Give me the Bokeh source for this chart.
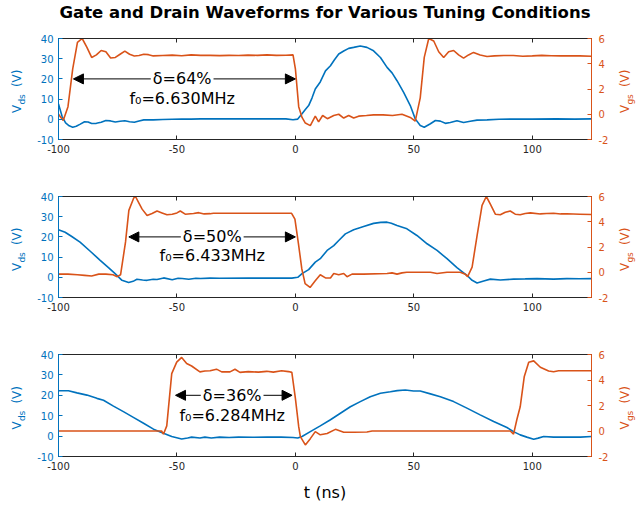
from math import pi
from bokeh.plotting import figure
from bokeh.models import (Range1d, LinearAxis, Label, Arrow, NormalHead, FixedTicker)
from bokeh.layouts import column, row
from bokeh.embed import file_html
from bokeh.resources import INLINE

BLUE = "#0072BD"
ORANGE = "#D95319"
DARK = "#262626"
FONT = "DejaVu Sans"

# ---------------- data ----------------
title_text = "Gate and Drain Waveforms for Various Tuning Conditions"
x_ticks = [-100, -50, 0, 50, 100]
vds_ticks = [-10, 0, 10, 20, 30, 40]
vgs_ticks = [-2, 0, 2, 4, 6]

# Panel 1 (delta = 64 %)
t1_gs = [-100, -98, -96, -94, -92, -90, -88, -86, -84, -82, -80, -78, -76, -74, -72, -70, -68, -66, -64, -62,
         -60, -56, -52, -48, -44, -40, -36, -32, -28, -24, -20, -16, -12, -8, -4, -1, 0, 1.4, 2.8, 4.2, 6.3,
         8.4, 9.8, 11.5, 13.5, 16.2, 18.3, 20.4, 22.5, 24.6, 26.7, 30, 33, 37, 41, 45, 48.5, 50.6, 52.7, 54.4,
         56.3, 58.4, 60.5, 62.6, 64.7, 66.8, 68.9, 71, 73.1, 75.2, 78, 80.9, 84, 88, 92, 96, 100, 104, 108,
         112, 116, 120, 125]
v1_gs = [0.0, -0.5, 0.6, 3.6, 5.7, 6.0, 5.3, 4.5, 4.7, 5.05, 4.95, 4.45, 4.5, 4.75, 5.0, 4.75, 4.62, 4.65, 4.75,
         4.72, 4.62, 4.65, 4.68, 4.63, 4.7, 4.66, 4.66, 4.64, 4.66, 4.65, 4.68, 4.66, 4.7, 4.66, 4.67, 4.7, 3.6,
         0.6, -0.25, -0.7, -0.9, -0.15, -0.6, -0.1, -0.35, -0.1, 0.0, -0.3, -0.1, -0.3, -0.15, -0.1, -0.05, -0.05,
         -0.1, 0.0, -0.25, -0.55, 1.3, 4.5, 6.0, 5.8, 4.95, 4.5, 4.95, 5.05, 4.7, 4.45, 4.7, 4.9, 4.7, 4.58,
         4.62, 4.65, 4.65, 4.6, 4.62, 4.66, 4.63, 4.62, 4.63, 4.62, 4.6]
t1_ds = [-100, -98.5, -97, -95.5, -94, -92.5, -91, -89, -87.5, -86, -84, -82, -80, -78, -76, -74, -72, -70, -68,
         -66, -64, -60, -56, -52, -48, -44, -40, -30, -20, -10, -4, -1, 1, 2.8, 4.2, 5.6, 7, 8.4, 10.5, 12.7,
         14.8, 16.5, 18.3, 20.4, 22.5, 24.6, 27.4, 30.2, 33, 35.9, 38.7, 40.8, 42.9, 45.7, 48.5, 50.6, 52.7,
         54.4, 57, 59.1, 61.2, 63.3, 65.4, 68.2, 71, 73.8, 76.7, 80.9, 86, 92, 100, 110, 118, 125]
v1_ds = [7.6, 1.5, -1.8, -3.2, -3.9, -3.4, -2.5, -1.2, -1.3, -2.1, -2.0, -1.5, -0.6, -0.8, -1.3, -1.0, -0.7, -1.2,
         -1.5, -0.8, -0.3, -0.3, -0.1, 0.0, 0.1, 0.1, 0.2, 0.2, 0.2, 0.2, 0.2, -0.2, 0.1, 2.7, 4.8, 6.8, 10.5,
         15.0, 18.5, 24.0, 26.5, 29.5, 32.3, 33.8, 35.1, 35.6, 36.3, 35.6, 33.9, 30.6, 25.7, 23.0, 19.1, 13.3,
         6.8, 0.2, -3.1, -3.9, -2.2, -0.6, -0.9, -2.0, -1.6, -0.7, -1.6, -1.0, -0.4, -0.3, 0.0, 0.1, 0.1, 0.2,
         0.1, 0.2]

# Panel 2 (delta = 50 %)
t2_gs = [-100, -96, -92, -89, -86, -83, -80, -77, -75.2, -73.8, -71.7, -70.3, -68.2, -67.5, -66.1, -64.7, -62.6,
         -60.5, -58.4, -56.3, -54.2, -52, -50, -48.6, -46.5, -43, -40.8, -38.5, -36, -34.6, -30, -20, -10, -1.6,
         -0.2, 1.3, 2.7, 4.1, 6.2, 8.3, 10.5, 12.7, 14.8, 16.2, 18.3, 20.4, 21.8, 23.9, 28.8, 38.7, 40.8, 42.9,
         45, 47, 52.7, 57, 59.8, 64, 69.6, 71.7, 72.7, 74.6, 76.7, 78.8, 80.6, 82.3, 84.4, 86.5, 88.6, 90.7,
         92.8, 94.9, 97, 99.2, 103.4, 106, 109, 112, 114.6, 120, 125]
v2_gs = [-0.15, -0.15, -0.2, -0.25, -0.3, -0.15, -0.15, -0.2, -0.35, -0.2, 2.4, 4.9, 5.9, 6.0, 5.5, 5.0, 4.5,
         4.65, 4.85, 4.7, 4.55, 4.6, 4.7, 4.85, 4.6, 4.65, 4.72, 4.62, 4.64, 4.67, 4.67, 4.67, 4.67, 4.67, 4.2,
         2.25, 0.28, -0.9, -1.2, -0.7, -0.2, -0.45, -0.45, -0.1, -0.2, -0.1, -0.35, -0.15, -0.15, -0.1, -0.05,
         -0.15, -0.05, 0.0, 0.0, 0.0, -0.1, 0.0, 0.0, -0.15, -0.35, 0.4, 2.9, 5.3, 6.0, 5.4, 4.6, 4.55, 4.75,
         4.85, 4.6, 4.55, 4.65, 4.7, 4.62, 4.65, 4.67, 4.62, 4.63, 4.6, 4.57]
t2_ds = [-100, -97.2, -94.4, -90.9, -86.6, -82.4, -78.9, -76.1, -73.2, -70.4, -68.5, -66.9, -64.5, -62.6, -60,
         -58.4, -55.6, -52, -49.5, -47.8, -45, -42, -40, -36, -32, -20, -10, -1.5, 1, 2.8, 5.6, 8.4, 10.5, 13.4,
         16.2, 18.3, 21.1, 24.6, 28.8, 33, 36, 38.7, 40.5, 42.9, 47.1, 51.3, 55.6, 59.8, 64, 68.2, 72.4, 74.6,
         76.7, 79.5, 82.3, 86.5, 92.1, 97, 102, 109, 114.6, 120, 125]
v2_ds = [23.5, 22.3, 20.2, 17.4, 12.9, 8.4, 4.8, 1.8, -1.5, -2.6, -2.0, -1.0, -1.3, -1.5, -1.0, -1.1, -0.3, -1.2,
         -0.5, -0.6, -1.0, -0.5, -0.6, -0.4, -0.5, -0.4, -0.4, -0.4, 0.0, 1.8, 3.8, 7.5, 9.2, 13.3, 15.7, 18.2,
         21.5, 23.5, 25.1, 26.7, 27.2, 27.3, 26.8, 25.6, 24.0, 20.7, 16.6, 13.3, 9.2, 4.8, 1.0, -1.5, -2.8, -1.8,
         -0.9, -1.3, -0.9, -0.8, -0.65, -0.9, -0.65, -0.7, -0.65]

# Panel 3 (delta = 36 %)
t3_gs = [-100, -90, -80, -70, -60, -56.5, -55.7, -54.3, -52.2, -50.1, -48, -45.9, -43.8, -40.3, -38.2, -36,
         -33.3, -31.1, -27.6, -25.5, -23.4, -19.9, -15.6, -12.1, -9.3, -5.8, -2.9, -1.5, 0, 1.4, 2.1, 4.2, 6.3,
         8.4, 10.5, 13.4, 16.9, 20.4, 24.6, 30.2, 32.4, 40, 50, 60, 70, 80, 90.7, 92.1, 93.5, 94.9, 96.6, 98.5,
         100.6, 103.4, 106.9, 109, 111.1, 115, 120, 125]
v3_gs = [0.0, 0.0, 0.0, 0.0, 0.0, 0.0, -0.25, 0.4, 4.5, 5.4, 5.77, 5.3, 5.1, 4.64, 4.7, 4.72, 4.85, 4.64, 4.64,
         4.84, 4.6, 4.66, 4.62, 4.68, 4.62, 4.72, 4.66, 4.6, 2.56, 0.34, -0.44, -1.09, -0.6, -0.05, -0.3, -0.2,
         0.13, -0.1, -0.1, -0.08, 0.0, 0.0, 0.0, 0.0, 0.0, 0.0, 0.0, -0.25, 0.9, 1.9, 4.25, 5.4, 5.5, 5.0, 4.7,
         4.65, 4.72, 4.72, 4.72, 4.72]
t3_ds = [-100, -95.8, -92.2, -88, -83.8, -81, -76.8, -72.6, -68.4, -64.1, -59.9, -55.7, -52.2, -48, -45.5,
         -43.8, -40.3, -38.2, -35.5, -32, -28, -24, -18, -12, -6, -1, 1, 2.8, 6.3, 10.5, 14.8, 19, 23.2, 27.4,
         31.6, 35.9, 40.1, 43, 46.4, 49.9, 52.7, 57, 61.2, 66.8, 72.4, 78, 83.7, 89.3, 92.1, 94.9, 97.7, 100.6,
         102.5, 104.8, 109, 115, 120.3, 125]
v3_ds = [22.2, 22.2, 21.2, 20.1, 18.5, 17.6, 14.7, 12.0, 9.2, 6.3, 3.4, 1.4, -0.2, -1.4, -0.9, -0.5, -0.9, -0.5,
         -0.9, -0.5, -0.7, -0.5, -0.6, -0.5, -0.5, -0.7, -0.9, -0.2, 2.2, 5.0, 8.0, 11.2, 14.4, 16.9, 19.3, 21.0,
         21.7, 22.3, 22.6, 22.1, 22.1, 20.7, 19.3, 16.9, 13.7, 10.4, 7.2, 4.2, 2.2, 0.6, -0.5, -1.5, -1.0, -0.2,
         -0.5, -0.5, -0.5, -0.2]

# annotations
delta_texts = ["δ=64%", "δ=50%", "δ=36%"]
f0_texts = ["f₀=6.630MHz", "f₀=6.433MHz", "f₀=6.284MHz"]
arrow_left = [-93.7, -70.3, -50.6]
arrow_right = [0.0, 0.0, -1.4]
arrow_y = [20, 20, 20]
text_x = [-47.8, -35.1, -26.7]
f0_y = [10.3, 10.6, 10.3]

panels = [(t1_gs, v1_gs, t1_ds, v1_ds), (t2_gs, v2_gs, t2_ds, v2_ds), (t3_gs, v3_gs, t3_ds, v3_ds)]

# layout (top border, frame height, bottom border)
TITLE_H = 24
geo = [(38 - TITLE_H, 101, 28), (29, 101, 28), (29, 102, 52)]
LW, PL, FW, PR, RW = 34, 24, 533, 22, 23   # side-label width, borders, frame width
TOTAL_W = LW + PL + FW + PR + RW


def style_axis(ax, color, ticks):
    ax.ticker = FixedTicker(ticks=ticks)
    ax.major_label_overrides = {t: str(t) for t in ticks}
    ax.axis_line_color = color
    ax.major_tick_line_color = color
    ax.major_label_text_color = color
    ax.major_tick_in = 4
    ax.major_tick_out = 0
    ax.minor_tick_line_color = None
    ax.major_label_text_font = FONT
    ax.major_label_text_font_size = "10px"


def side_fig(width, top, fh, bot):
    s = figure(width=width, height=top + fh + bot, x_range=Range1d(0, width), y_range=Range1d(-10, 40),
               output_backend="svg", toolbar_location=None, x_axis_location=None, y_axis_location=None,
               min_border_left=0, min_border_right=0, min_border_top=top, min_border_bottom=bot,
               background_fill_color="white", border_fill_color="white", outline_line_color=None)
    s.grid.visible = False
    return s


# title strip
tf = figure(width=TOTAL_W, height=TITLE_H, x_range=Range1d(0, TOTAL_W), y_range=Range1d(0, TITLE_H),
            output_backend="svg", toolbar_location=None, x_axis_location=None, y_axis_location=None,
            min_border=0, background_fill_color="white", border_fill_color="white", outline_line_color=None)
tf.grid.visible = False
tf.add_layout(Label(x=LW + PL + FW / 2, y=TITLE_H - 12, text=title_text, text_align="center",
                    text_baseline="middle", text_font=FONT, text_font_size="16.5px", text_font_style="bold",
                    text_color="black"))

rows = [tf]
for i, (tg, vg, td, vd) in enumerate(panels):
    top, fh, bot = geo[i]
    p = figure(width=PL + FW + PR, height=top + fh + bot, x_range=Range1d(-100, 125), y_range=Range1d(-10, 40),
               output_backend="svg", toolbar_location=None,
               min_border_left=PL, min_border_right=PR, min_border_top=top, min_border_bottom=bot,
               background_fill_color="white", border_fill_color="white")
    p.extra_y_ranges = {"vgs": Range1d(-2, 6)}
    p.grid.visible = False
    p.outline_line_color = DARK
    p.outline_line_width = 1

    bottom_axis = p.xaxis[0]
    style_axis(bottom_axis, DARK, x_ticks)
    bottom_axis.major_label_standoff = 5
    style_axis(p.yaxis[0], BLUE, vds_ticks)
    p.yaxis[0].major_label_standoff = 5

    ra = LinearAxis(y_range_name="vgs")
    style_axis(ra, ORANGE, vgs_ticks)
    ra.major_label_standoff = 7
    p.add_layout(ra, "right")

    ta = LinearAxis()
    style_axis(ta, DARK, x_ticks)
    ta.major_label_text_font_size = "1px"
    ta.major_label_text_color = None
    ta.major_label_standoff = 0
    p.add_layout(ta, "above")

    p.line(td, vd, color=BLUE, line_width=1.6)
    p.line(tg, vg, color=ORANGE, line_width=1.6, y_range_name="vgs")

    p.add_layout(Arrow(x_start=arrow_left[i], y_start=arrow_y[i], x_end=arrow_right[i], y_end=arrow_y[i],
                       line_color="black", line_width=1,
                       start=NormalHead(size=10, fill_color="black", line_color="black"),
                       end=NormalHead(size=10, fill_color="black", line_color="black")))
    p.add_layout(Label(x=text_x[i], y=arrow_y[i], text=delta_texts[i], text_align="center",
                       text_baseline="middle", text_font=FONT, text_font_size="16px", text_color="black",
                       background_fill_color="white", padding=2))
    p.add_layout(Label(x=text_x[i], y=f0_y[i], text=f0_texts[i], text_align="center",
                       text_baseline="middle", text_font=FONT, text_font_size="16px", text_color="black"))

    if i == 2:
        bottom_axis.axis_label = "t (ns)"
        bottom_axis.axis_label_text_font = FONT
        bottom_axis.axis_label_text_font_size = "16px"
        bottom_axis.axis_label_text_font_style = "normal"
        bottom_axis.axis_label_text_color = "black"
        bottom_axis.axis_label_standoff = 10

    # left label  V_ds (V)
    lf = side_fig(LW, top, fh, bot)
    for (txt, xx, yo, fs) in [("V", 16.7, -24.1, "12px"), ("ds", 21.7, -15.6, "9px"), ("(V)", 16.7, 1.9, "12px")]:
        lf.add_layout(Label(x=xx, y=15, y_offset=yo, text=txt, angle=pi / 2,
                            text_align="left", text_baseline="alphabetic", text_font=FONT,
                            text_font_size=fs, text_color=BLUE))
    # right label  V_gs (V)
    rf = side_fig(RW, top, fh, bot)
    for (txt, xx, yo, fs) in [("V", 11.5, -24.1, "12px"), ("gs", 16.5, -15.6, "9px"), ("(V)", 11.5, 1.9, "12px")]:
        rf.add_layout(Label(x=xx, y=15, y_offset=yo, text=txt, angle=pi / 2,
                            text_align="left", text_baseline="alphabetic", text_font=FONT,
                            text_font_size=fs, text_color=ORANGE))
    rows.append(row(lf, p, rf))

layout = column(*rows)
open("out.html", "w").write(file_html(layout, INLINE))
